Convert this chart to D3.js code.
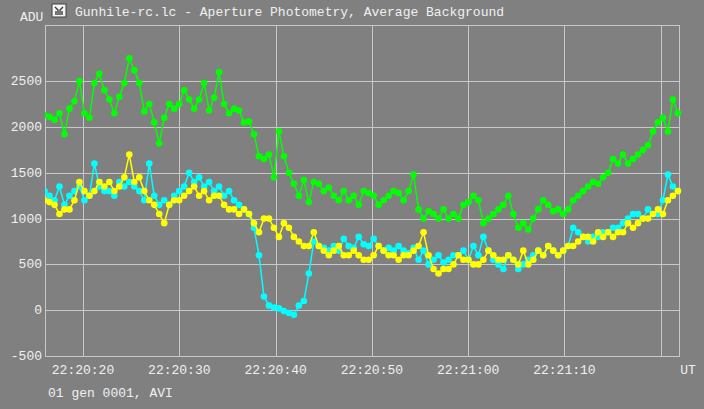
<!DOCTYPE html>
<html><head><meta charset="utf-8">
<script src="https://cdn.jsdelivr.net/npm/d3@7"></script>
<style>body{margin:0;background:#808080}svg{display:block}</style>
</head><body><svg id="c" width="704" height="409"></svg>
<script>
const startSec = 16.0, stepSec = 0.518; // sampling grid, seconds after 22:20:00
const green = [2130,2110,2080,2150,1920,2200,2280,2500,2150,2100,2480,2580,2400,2300,2150,2330,2480,2750,2620,2480,2170,2250,2050,1820,2100,2250,2200,2250,2400,2300,2200,2300,2480,2180,2320,2600,2250,2150,2200,2180,2050,2060,1920,1680,1650,1700,1450,1950,1680,1500,1380,1250,1420,1180,1400,1380,1300,1340,1250,1200,1300,1200,1250,1150,1300,1280,1250,1150,1200,1250,1300,1280,1200,1300,1480,1100,1000,1080,1050,1000,1100,1000,1050,1000,1150,1180,1250,1200,950,1000,1050,1100,1150,1250,1050,900,950,880,1000,1100,1200,1150,1080,1100,1050,1100,1200,1250,1300,1350,1400,1380,1450,1500,1650,1600,1700,1600,1650,1700,1750,1800,1950,2050,2100,1950,2300,2150];
const cyan = [1300,1250,1200,1350,1150,1250,1300,1350,1200,1250,1600,1350,1300,1300,1250,1400,1350,1400,1350,1300,1200,1600,1250,1150,1200,1150,1250,1300,1350,1500,1400,1450,1350,1400,1300,1350,1250,1300,1200,1150,1100,1050,900,600,150,50,30,20,-10,-30,-50,50,100,400,750,700,680,650,700,650,780,700,680,800,720,700,780,700,650,680,650,700,650,620,680,550,650,500,550,600,520,550,600,600,650,550,700,600,800,650,550,500,450,600,550,450,500,550,600,650,600,700,650,600,650,700,900,850,800,750,800,800,850,850,900,900,950,1000,1050,1050,1000,1100,1050,1050,1200,1480,1350,1300];
const yellow = [1200,1180,1150,1050,1100,1100,1200,1400,1300,1250,1300,1400,1350,1400,1300,1350,1450,1700,1400,1450,1300,1200,1150,1050,950,1150,1200,1200,1250,1300,1350,1250,1300,1200,1250,1250,1150,1100,1100,1050,1100,1050,950,850,1000,1000,900,800,950,900,800,750,700,700,850,700,650,600,650,700,600,600,650,600,550,550,600,700,650,600,600,550,600,600,650,700,850,600,450,400,450,450,500,600,550,550,500,500,550,650,600,550,550,600,550,500,650,500,550,650,600,700,650,600,650,700,700,750,800,800,750,850,800,850,800,850,850,950,900,950,1000,1000,1050,1100,1050,1200,1250,1300];
const yTicks = [-500,0,500,1000,1500,2000,2500];
const xTicks = [20,30,40,50,60,70,80];
const xLabels = ["22:20:20","22:20:30","22:20:40","22:20:50","22:21:00","22:21:10",""];

const svg = d3.select("#c");
const L=45,R=679,T=25,B=356;
const x = d3.scaleLinear().domain([16.05,81.9]).range([L,R]);
const y = d3.scaleLinear().domain([-500,3113]).range([B,T]);
const font = "'Liberation Mono', monospace";
const txt = "#f0f0f0", grid = "#c8c8c8";

// grid
svg.append("g").selectAll("line").data(yTicks.slice(1)).join("line")
  .attr("x1",L).attr("x2",R).attr("y1",d=>Math.round(y(d))+.5).attr("y2",d=>Math.round(y(d))+.5)
  .attr("stroke",grid).attr("stroke-width",1);
svg.append("g").selectAll("line").data(xTicks).join("line")
  .attr("y1",T).attr("y2",B).attr("x1",d=>Math.round(x(d))+.5).attr("x2",d=>Math.round(x(d))+.5)
  .attr("stroke",grid).attr("stroke-width",1);
svg.append("rect").attr("x",L+.5).attr("y",T+.5).attr("width",R-L).attr("height",B-T)
  .attr("fill","none").attr("stroke",grid);

// labels
svg.append("g").selectAll("text").data(yTicks).join("text")
  .attr("x",L-3).attr("y",d=>y(d)+4).attr("text-anchor","end")
  .attr("font-family",font).attr("font-size",13).attr("fill",txt).text(d=>d);
svg.append("g").selectAll("text").data(xTicks).join("text")
  .attr("x",d=>x(d)).attr("y",374).attr("text-anchor","middle")
  .attr("font-family",font).attr("font-size",13).attr("fill",txt).text((d,i)=>xLabels[i]);
svg.append("text").attr("x",688).attr("y",374).attr("text-anchor","middle").attr("font-family",font).attr("font-size",13).attr("fill",txt).text("UT");
svg.append("text").attr("x",20).attr("y",21).attr("font-family",font).attr("font-size",13).attr("fill",txt).text("ADU");
svg.append("text").attr("x",48).attr("y",397).attr("font-family",font).attr("font-size",13).attr("fill",txt).text("01 gen 0001, AVI");
svg.append("text").attr("x",75).attr("y",16).attr("font-family",font).attr("font-size",13).attr("fill",txt).text("Gunhile-rc.lc - Aperture Photometry, Average Background");
// icon
const ic = svg.append("g");
ic.append("rect").attr("x",52).attr("y",4).attr("width",14).attr("height",13).attr("fill","#f4f4f4").attr("stroke","#404040");
ic.append("path").attr("d","M55 7 L58 10 L58 15 M63 7 L60 10 L60 15 M56 11 L56 15 M62 11 L62 15").attr("stroke","#303030").attr("stroke-width",1.3).attr("fill","none");

// series
const series = [[green,"#00ff00"],[cyan,"#00ffff"],[yellow,"#ffff00"]];
const line = d3.line().x((d,i)=>x(startSec+i*stepSec)).y(d=>y(d));
const clip = svg.append("clipPath").attr("id","cp").append("rect").attr("x",L).attr("y",T).attr("width",R-L+4).attr("height",B-T);
for (const [vals,col] of series) {
  const g = svg.append("g").attr("clip-path","url(#cp)");
  g.append("path").attr("d",line(vals)).attr("fill","none").attr("stroke",col).attr("stroke-width",1.5);
  g.selectAll("circle").data(vals).join("circle")
    .attr("cx",(d,i)=>x(startSec+i*stepSec)).attr("cy",d=>y(d)).attr("r",3.3).attr("fill",col);
}
</script></body></html>
